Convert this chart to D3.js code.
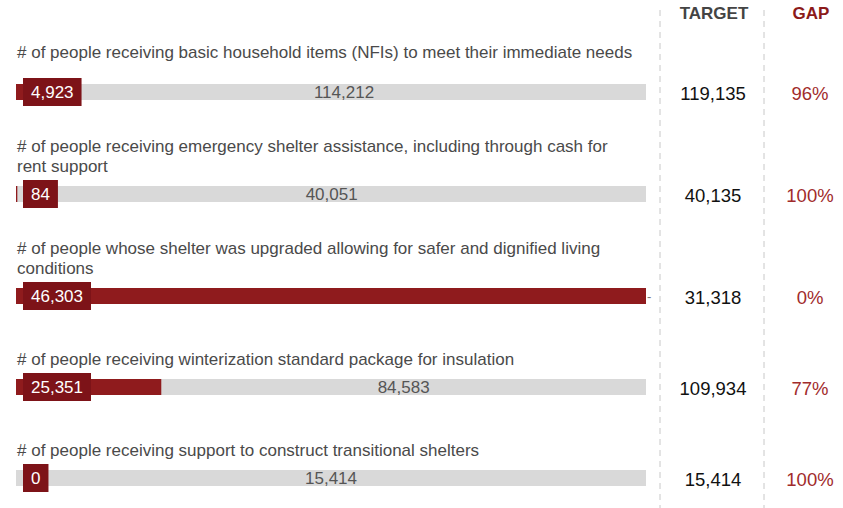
<!DOCTYPE html>
<html>
<head>
<meta charset="utf-8">
<script src="https://cdn.jsdelivr.net/npm/d3@7"></script>
<style>
  body { margin: 0; background: #fff; }
  svg { font-family: "Liberation Sans", Arial, sans-serif; }
</style>
</head>
<body>
<svg width="843" height="508"></svg>
<script>
// **** Data ****
var labels = [
    "# of people receiving basic household items (NFIs) to meet their immediate needs",
    "# of people receiving emergency shelter assistance, including through cash for\nrent support",
    "# of people whose shelter was upgraded allowing for safer and dignified living\nconditions",
    "# of people receiving winterization standard package for insulation",
    "# of people receiving support to construct transitional shelters"
];
var achieved = [4923, 84, 46303, 25351, 0];
var targets = [119135, 40135, 31318, 109934, 15414];
var remaining = [114212, 40051, null, 84583, 15414];
var gaps = [96, 100, 0, 77, 100];
var headers = ["TARGET", "GAP"];

// **** Layout ****
var barLeft = 16, barRight = 646, barH = 16;
var boxH = 28, boxX = 23, boxPad = 8;
var targetX = 713, gapX = 810;
var red = "#8f1b1d", boxRed = "#7d1318", grey = "#d9d9d9";
var fmt = d3.format(",");

var svg = d3.select("svg");

var rows = labels.map(function (l, i) {
    return {
        label: l.split("\n"),
        achieved: achieved[i],
        target: targets[i],
        remaining: remaining[i],
        gap: gaps[i]
    };
});

// row centres: taller spacing before rows with two-line labels
var steps = rows.map(function (r, i) { return i === 0 ? 0 : 91 + 11 * (r.label.length - 1); });
var centres = Array.from(d3.cumsum(steps), function (s) { return 92 + s; });
var yScale = d3.scaleOrdinal().domain(labels).range(centres);

// dashed separators
[660, 764].forEach(function (x) {
    svg.append("line")
        .attr("x1", x).attr("x2", x)
        .attr("y1", 10).attr("y2", 508)
        .attr("stroke", "#c8c8c8")
        .attr("stroke-width", 1)
        .attr("stroke-dasharray", "6,5");
});

svg.append("text")
    .attr("x", targetX + 1).attr("y", 19)
    .attr("text-anchor", "middle")
    .attr("font-size", 17).attr("font-weight", "bold")
    .attr("fill", "#444")
    .text(headers[0]);

svg.append("text")
    .attr("x", gapX + 1).attr("y", 19)
    .attr("text-anchor", "middle")
    .attr("font-size", 17).attr("font-weight", "bold")
    .attr("fill", "#8b1a1a")
    .text(headers[1]);

rows.forEach(function (r, i) {
    var cy = yScale(labels[i]);
    var x = d3.scaleLinear()
        .domain([0, Math.max(r.achieved, r.target)])
        .range([barLeft, barRight]);

    var g = svg.append("g").attr("class", "row");

    // label (first row sits a little higher under the header)
    var lastBase = cy - 22 - (i === 0 ? 12 : 0);
    var txt = g.append("text")
        .attr("font-size", 17)
        .attr("fill", "#4a4a4a");
    r.label.forEach(function (line, j) {
        txt.append("tspan")
            .attr("x", 17)
            .attr("y", lastBase - (r.label.length - 1 - j) * 20)
            .text(line);
    });

    // target bar
    g.append("rect")
        .attr("x", x(0)).attr("y", cy - barH / 2)
        .attr("width", x(r.target) - x(0)).attr("height", barH)
        .attr("fill", grey);

    // achieved bar
    g.append("rect")
        .attr("x", x(0)).attr("y", cy - barH / 2)
        .attr("width", x(r.achieved) - x(0)).attr("height", barH)
        .attr("fill", red);

    // remaining label
    var remStart = x(Math.min(r.achieved, r.target));
    var remEnd = x(Math.max(r.achieved, r.target));
    if (r.remaining !== null) {
        g.append("text")
            .attr("x", (remStart + remEnd) / 2).attr("y", cy)
            .attr("dy", "0.36em")
            .attr("text-anchor", "middle")
            .attr("font-size", 17)
            .attr("fill", "#555")
            .text(fmt(r.remaining));
    } else {
        g.append("text")
            .attr("x", remEnd + 1).attr("y", cy)
            .attr("dy", "0.36em")
            .attr("font-size", 13)
            .attr("fill", "#777")
            .text("-");
    }

    // achieved value box
    var box = g.append("rect")
        .attr("x", boxX).attr("y", cy - boxH / 2)
        .attr("height", boxH)
        .attr("fill", boxRed);
    var boxText = g.append("text")
        .attr("x", boxX + boxPad).attr("y", cy)
        .attr("dy", "0.36em")
        .attr("font-size", 17)
        .attr("fill", "#fff")
        .text(fmt(r.achieved));
    box.attr("width", boxText.node().getComputedTextLength() + boxPad * 2);

    // target and gap columns
    g.append("text")
        .attr("x", targetX).attr("y", cy + 1)
        .attr("dy", "0.36em")
        .attr("text-anchor", "middle")
        .attr("font-size", 18.5)
        .attr("fill", "#111")
        .text(fmt(r.target));

    g.append("text")
        .attr("x", gapX).attr("y", cy + 1)
        .attr("dy", "0.36em")
        .attr("text-anchor", "middle")
        .attr("font-size", 18.5)
        .attr("fill", "#a12b2b")
        .text(r.gap + "%");
});
</script>
</body>
</html>
